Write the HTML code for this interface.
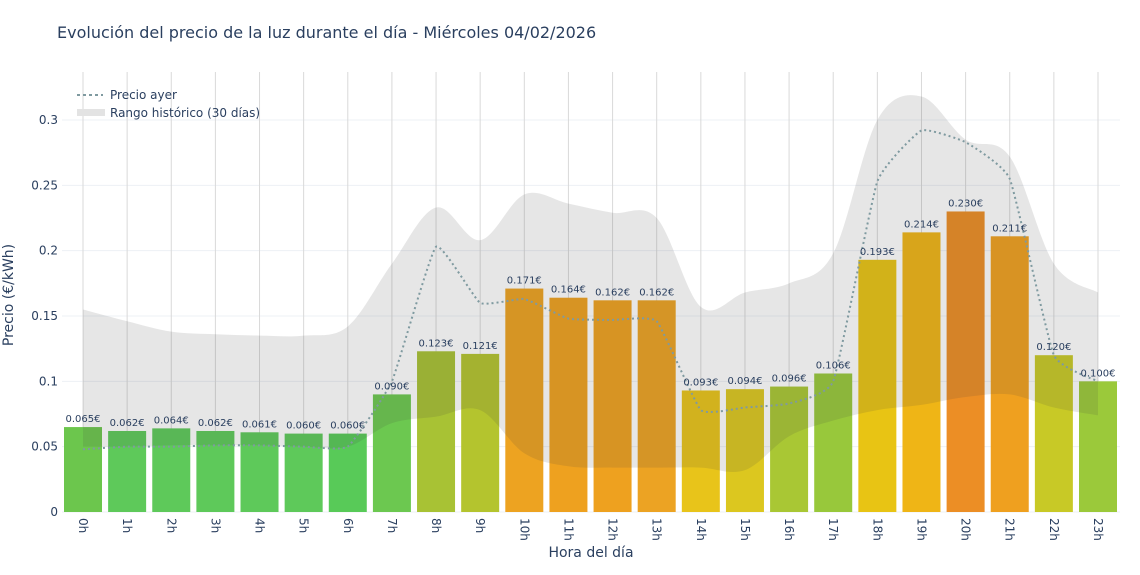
<!DOCTYPE html>
<html><head><meta charset="utf-8"><style>
body{margin:0;background:#fff;font-family:"Liberation Sans","DejaVu Sans",sans-serif}
svg text{font-family:"DejaVu Sans","Liberation Sans",sans-serif;fill:#2a3f5f}
</style></head><body>
<svg id="chart" width="1140" height="570" xmlns="http://www.w3.org/2000/svg">
<text x="57" y="38" font-size="16">Evolución del precio de la luz durante el día - Miércoles 04/02/2026</text>
<g id="grid"></g><g id="bars"></g><g id="band"></g><g id="line"></g><g id="labels"></g><g id="axes"></g>
<text x="591" y="557" font-size="14" text-anchor="middle">Hora del día</text>
<text transform="translate(13,295) rotate(-90)" font-size="14" text-anchor="middle">Precio (€/kWh)</text>
<g>
<line x1="77" y1="95" x2="103" y2="95" stroke="#7f9aa0" stroke-width="2" stroke-dasharray="3,3"/>
<text x="110" y="99" font-size="12">Precio ayer</text>
<rect x="77" y="109" width="28" height="7" fill="#e3e3e3"/>
<text x="110" y="117" font-size="12">Rango histórico (30 días)</text>
</g>
</svg>
<script>
const hours=["0h","1h","2h","3h","4h","5h","6h","7h","8h","9h","10h","11h","12h","13h","14h","15h","16h","17h","18h","19h","20h","21h","22h","23h"];
const prices=[0.065,0.062,0.064,0.062,0.061,0.060,0.060,0.090,0.123,0.121,0.171,0.164,0.162,0.162,0.093,0.094,0.096,0.106,0.193,0.214,0.230,0.211,0.120,0.100];
const barColors=["#6cc64d","#5ec95a","#5ec95a","#5ec95a","#5ec95a","#5ec95a","#58ca58","#6cc850","#a8c234","#b4c42e","#eda321","#eea11f","#eea11f","#eca323","#e8c41a","#dcc71f","#a9c734","#98c83b","#e8c414","#efb516","#ec8e25","#efa01f","#c8c926","#9bc93a"];
const yesterday=[0.048,0.050,0.050,0.051,0.051,0.050,0.050,0.100,0.203,0.160,0.163,0.148,0.147,0.146,0.078,0.080,0.083,0.100,0.253,0.292,0.283,0.255,0.120,0.100];
const rangeHigh=[0.155,0.146,0.138,0.136,0.135,0.135,0.142,0.190,0.233,0.208,0.243,0.236,0.229,0.225,0.157,0.168,0.175,0.198,0.300,0.318,0.285,0.272,0.190,0.168];
const rangeLow=[0.050,0.050,0.051,0.051,0.051,0.050,0.050,0.068,0.073,0.078,0.045,0.035,0.034,0.034,0.034,0.032,0.058,0.070,0.078,0.082,0.088,0.090,0.080,0.074];
const yTicks=[0,0.05,0.1,0.15,0.2,0.25,0.3];
const yTickLabels=["0","0.05","0.1","0.15","0.2","0.25","0.3"];
const NS="http://www.w3.org/2000/svg";
const X0=83,STEP=(1098-83)/23,Y0=512,YS=(512-120)/0.3;
const xs=i=>X0+i*STEP, ys=v=>Y0-v*YS;
function mk(tag,attrs,parent){const e=document.createElementNS(NS,tag);for(const k in attrs)e.setAttribute(k,attrs[k]);document.getElementById(parent).appendChild(e);return e;}
function spline(pts,t){let d=`M${pts[0][0]},${pts[0][1]}`;for(let i=0;i<pts.length-1;i++){const p0=pts[i-1]||pts[i],p1=pts[i],p2=pts[i+1],p3=pts[i+2]||p2;d+=` C${p1[0]+(p2[0]-p0[0])/t},${p1[1]+(p2[1]-p0[1])/t} ${p2[0]-(p3[0]-p1[0])/t},${p2[1]-(p3[1]-p1[1])/t} ${p2[0]},${p2[1]}`;}return d;}
yTicks.forEach((v,i)=>{
 let g=mk('line',{x1:62,x2:1120,y1:ys(v),y2:ys(v),stroke:'#edf0f5','stroke-width':1},'grid');
 
 
 let t=mk('text',{x:58,y:ys(v)+4,'font-size':12,'text-anchor':'end'},'axes');t.textContent=yTickLabels[i];
 
 
});
hours.forEach((h,i)=>{
 let g=mk('line',{x1:xs(i),x2:xs(i),y1:72,y2:512,stroke:'#d9d9d9','stroke-width':1},'grid');
 
 
 let b=mk('rect',{x:xs(i)-19,y:ys(prices[i]),width:38,height:prices[i]*YS,fill:barColors[i]},'bars');
 
 
 let t=mk('text',{x:xs(i),y:ys(prices[i])-5,'font-size':10,'text-anchor':'middle'},'labels');t.textContent=prices[i].toFixed(3)+'€';
 
 
 let xl=mk('text',{transform:`translate(${xs(i)-4},518) rotate(90)`,'font-size':12},'axes');xl.textContent=h;
 
 
});
const hi=rangeHigh.map((v,i)=>[xs(i),ys(v)]),lo=rangeLow.map((v,i)=>[xs(i),ys(v)]).reverse();
const bd=spline(hi,6)+' L'+spline(lo,6).slice(1)+' Z';
let band=mk('path',{d:bd,fill:'rgba(60,60,60,0.13)'},'band');


let ln=mk('path',{d:spline(yesterday.map((v,i)=>[xs(i),ys(v)]),16),fill:'none',stroke:'#7f9aa0','stroke-width':2,'stroke-dasharray':'2,3'},'line');


</script>
</body></html>
